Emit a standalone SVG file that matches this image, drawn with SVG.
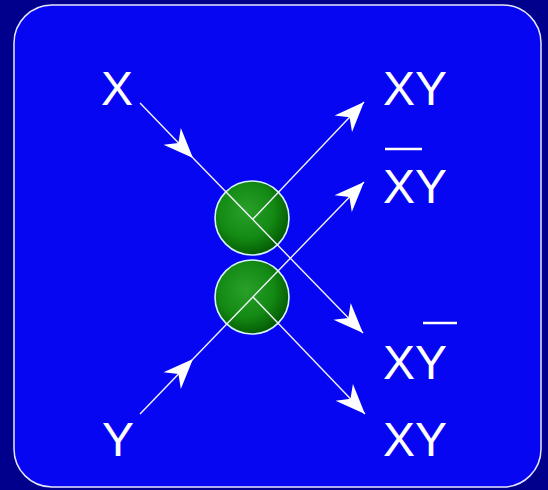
<svg xmlns="http://www.w3.org/2000/svg" width="548" height="490" viewBox="0 0 548 490">
  <style>
    .lbl { font-family: "Liberation Sans", Arial, sans-serif; font-size: 48px; fill: #ffffff; }
    .bar { stroke: #ffffff; stroke-width: 2.5; }
    .conn { stroke: #f4f4ff; stroke-width: 1.4; fill: none; }
    .cell { fill: url(#g); stroke: #d8f4ff; stroke-width: 1.6; }
  </style>
  <defs>
    <radialGradient id="g" cx="0.42" cy="0.4" r="0.62">
      <stop offset="0" stop-color="#2aa02a"/>
      <stop offset="0.6" stop-color="#138a13"/>
      <stop offset="1" stop-color="#045a04"/>
    </radialGradient>
    <marker id="ah" markerUnits="userSpaceOnUse" markerWidth="36" markerHeight="30" viewBox="-32 -15 34 30" refX="0" refY="0" orient="auto">
      <path d="M0,0 L-30,-12 L-21,0 L-30,12 Z" fill="#ffffff"/>
    </marker>
  </defs>
  <rect x="0" y="0" width="548" height="490" fill="#00008c"/>
  <rect x="14" y="5" width="527" height="482" rx="38" ry="38" fill="#0606f2" stroke="#e6e6ff" stroke-width="1.5"/>

  <g id="cell-top"><circle class="cell" cx="252" cy="218" r="37"/></g>
  <g id="cell-bottom"><circle class="cell" cx="252" cy="297" r="37"/></g>

  <g id="connectors">
    <line class="conn" x1="140" y1="103" x2="193" y2="158" marker-end="url(#ah)"/>
    <line class="conn" x1="193" y1="158" x2="363" y2="333" marker-end="url(#ah)"/>
    <line class="conn" x1="140" y1="414" x2="193" y2="359" marker-end="url(#ah)"/>
    <line class="conn" x1="193" y1="359" x2="364" y2="182" marker-end="url(#ah)"/>
    <line class="conn" x1="253" y1="219" x2="364" y2="102" marker-end="url(#ah)"/>
    <line class="conn" x1="253" y1="297" x2="365" y2="414" marker-end="url(#ah)"/>
  </g>

  <g id="in-x"><text class="lbl" x="101" y="105">X</text></g>
  <g id="in-y"><text class="lbl" x="102" y="456">Y</text></g>
  <g id="out-1"><text class="lbl" x="383" y="105">XY</text></g>
  <g id="out-2"><text class="lbl" x="383" y="203">XY</text><line class="bar" x1="385" y1="149" x2="422" y2="149"/></g>
  <g id="out-3"><text class="lbl" x="383" y="379">XY</text><line class="bar" x1="423" y1="323" x2="457" y2="323"/></g>
  <g id="out-4"><text class="lbl" x="383" y="456">XY</text></g>
</svg>
